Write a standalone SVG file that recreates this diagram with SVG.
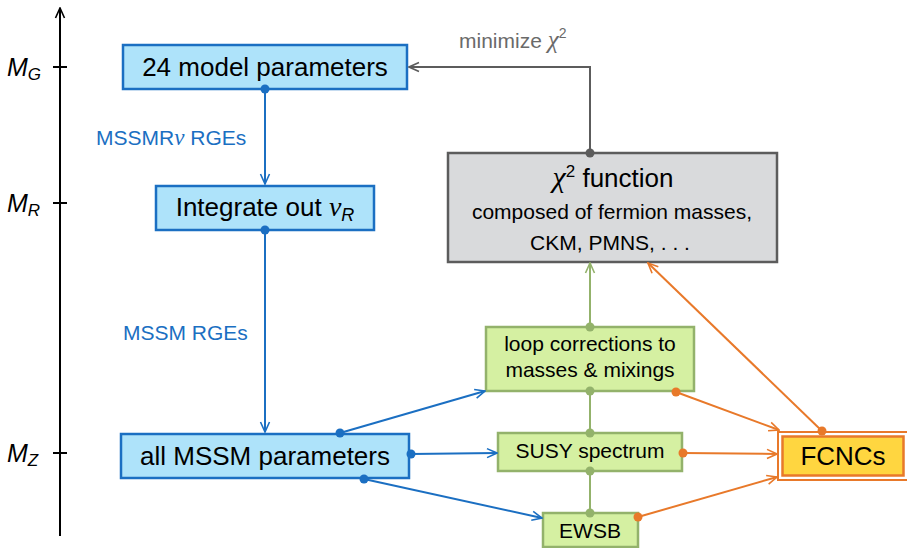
<svg xmlns="http://www.w3.org/2000/svg" width="907" height="548" viewBox="0 0 907 548">
  <style>
    .sans { font-family: "Liberation Sans", Arial, sans-serif; }
    .greek { font-family: "Liberation Serif", "Times New Roman", serif; font-style: italic; }
    .big { font-size: 26px; fill: #000; }
    .mid { font-size: 21px; fill: #000; }
    .lbl-blue { font-size: 21px; fill: #1b6fc2; }
    .lbl-gray { font-size: 21px; fill: #6a6a6a; }
    .axis-lbl { font-size: 25px; font-style: italic; fill: #000; }
    .blue-box { fill: #aee3fa; stroke: #1b6fc2; stroke-width: 2.5; }
    .green-box { fill: #d5f0a2; stroke: #93b26b; stroke-width: 2.5; }
    .gray-box { fill: #d9dadc; stroke: #5c5c5c; stroke-width: 2.5; }
    .c-blue { stroke: #1b6fc2; stroke-width: 2; fill: none; }
    .c-green { stroke: #93b26b; stroke-width: 2; fill: none; }
    .c-gray { stroke: #5c5c5c; stroke-width: 2; fill: none; }
    .c-orange { stroke: #e8792a; stroke-width: 2; fill: none; }
    .d-blue { fill: #1b6fc2; }
    .d-green { fill: #93b26b; }
    .d-gray { fill: #5c5c5c; }
    .d-orange { fill: #e8792a; }
  </style>
  <defs>
    <marker id="ah-black" viewBox="0 0 12 12" refX="11" refY="6" markerWidth="12" markerHeight="12" markerUnits="userSpaceOnUse" orient="auto">
      <path d="M1,1.5 L11,6 L1,10.5" fill="none" stroke="#000" stroke-width="1.6"/>
    </marker>
    <marker id="ah-blue" viewBox="0 0 12 12" refX="11" refY="6" markerWidth="12" markerHeight="12" markerUnits="userSpaceOnUse" orient="auto">
      <path d="M1,1.5 L11,6 L1,10.5" fill="none" stroke="#1b6fc2" stroke-width="1.6"/>
    </marker>
    <marker id="ah-green" viewBox="0 0 12 12" refX="11" refY="6" markerWidth="12" markerHeight="12" markerUnits="userSpaceOnUse" orient="auto">
      <path d="M1,1.5 L11,6 L1,10.5" fill="none" stroke="#93b26b" stroke-width="1.6"/>
    </marker>
    <marker id="ah-gray" viewBox="0 0 12 12" refX="11" refY="6" markerWidth="12" markerHeight="12" markerUnits="userSpaceOnUse" orient="auto">
      <path d="M1,1.5 L11,6 L1,10.5" fill="none" stroke="#5c5c5c" stroke-width="1.6"/>
    </marker>
    <marker id="ah-orange" viewBox="0 0 12 12" refX="11" refY="6" markerWidth="12" markerHeight="12" markerUnits="userSpaceOnUse" orient="auto">
      <path d="M1,1.5 L11,6 L1,10.5" fill="none" stroke="#e8792a" stroke-width="1.6"/>
    </marker>
  </defs>

  <!-- energy scale axis -->
  <g id="axis">
    <line x1="60" y1="536" x2="60" y2="8" stroke="#000" stroke-width="2" marker-end="url(#ah-black)"/>
    <line x1="53" y1="67" x2="67" y2="67" stroke="#000" stroke-width="2"/>
    <line x1="53" y1="203" x2="67" y2="203" stroke="#000" stroke-width="2"/>
    <line x1="53" y1="453" x2="67" y2="453" stroke="#000" stroke-width="2"/>
    <text class="sans axis-lbl" x="7" y="76">M<tspan font-size="17" dy="4">G</tspan></text>
    <text class="sans axis-lbl" x="7" y="212">M<tspan font-size="17" dy="4">R</tspan></text>
    <text class="sans axis-lbl" x="7" y="462">M<tspan font-size="17" dy="4">Z</tspan></text>
  </g>

  <!-- nodes -->
  <g id="model-params">
    <rect class="blue-box" x="123" y="45" width="284" height="44"/>
    <text class="sans big" x="265" y="76" text-anchor="middle">24 model parameters</text>
  </g>
  <g id="integrate-out">
    <rect class="blue-box" x="156" y="186" width="218" height="44"/>
    <text class="sans big" x="265" y="216" text-anchor="middle">Integrate out <tspan class="greek" font-size="28">ν</tspan><tspan font-size="18" font-style="italic" dy="5">R</tspan></text>
  </g>
  <g id="mssm-params">
    <rect class="blue-box" x="121" y="434" width="288" height="44"/>
    <text class="sans big" x="265" y="465" text-anchor="middle">all MSSM parameters</text>
  </g>
  <g id="chi2">
    <rect class="gray-box" x="448" y="153" width="329" height="109"/>
    <text class="sans big" x="613" y="187" text-anchor="middle"><tspan class="greek" font-size="30">χ</tspan><tspan font-size="17" dy="-10">2</tspan><tspan dy="10"> function</tspan></text>
    <text class="sans mid" x="612" y="219" text-anchor="middle">composed of fermion masses,</text>
    <text class="sans mid" x="610" y="250" text-anchor="middle">CKM, PMNS, . . .</text>
  </g>
  <g id="loop-corr">
    <rect class="green-box" x="486" y="327" width="208" height="64"/>
    <text class="sans mid" x="590" y="351" text-anchor="middle">loop corrections to</text>
    <text class="sans mid" x="590" y="377" text-anchor="middle">masses &amp; mixings</text>
  </g>
  <g id="susy-spectrum">
    <rect class="green-box" x="498" y="433" width="184" height="38"/>
    <text class="sans mid" x="590" y="458" text-anchor="middle">SUSY spectrum</text>
  </g>
  <g id="ewsb">
    <rect class="green-box" x="543" y="513" width="95" height="34"/>
    <text class="sans mid" x="590" y="538" text-anchor="middle">EWSB</text>
  </g>
  <g id="fcnc">
    <rect x="778" y="432" width="132" height="48" fill="#fff" stroke="#e8792a" stroke-width="2"/>
    <rect x="782.5" y="436.5" width="121" height="39" fill="#ffd640" stroke="#e8792a" stroke-width="2.5"/>
    <text class="sans big" x="843" y="465" text-anchor="middle">FCNCs</text>
  </g>

  <!-- connectors -->
  <g id="connectors">
    <!-- RG running -->
    <line class="c-blue" x1="265" y1="89" x2="265" y2="184" marker-end="url(#ah-blue)"/>
    <circle class="d-blue" cx="265" cy="89" r="4.5"/>
    <text class="sans lbl-blue" x="96" y="145">MSSMR<tspan class="greek" font-size="23">ν</tspan> RGEs</text>
    <line class="c-blue" x1="265" y1="230" x2="265" y2="432" marker-end="url(#ah-blue)"/>
    <circle class="d-blue" cx="265" cy="230" r="4.5"/>
    <text class="sans lbl-blue" x="123" y="340">MSSM RGEs</text>

    <!-- low-scale branches -->
    <line class="c-blue" x1="340" y1="433" x2="485" y2="391" marker-end="url(#ah-blue)"/>
    <circle class="d-blue" cx="340" cy="433" r="4.5"/>
    <line class="c-blue" x1="411" y1="454" x2="497" y2="453" marker-end="url(#ah-blue)"/>
    <circle class="d-blue" cx="411" cy="454" r="4.5"/>
    <line class="c-blue" x1="364" y1="479" x2="542" y2="518" marker-end="url(#ah-blue)"/>
    <circle class="d-blue" cx="364" cy="479" r="4.5"/>

    <!-- green chain -->
    <line class="c-green" x1="590" y1="327" x2="590" y2="263" marker-end="url(#ah-green)"/>
    <line class="c-green" x1="590" y1="391" x2="590" y2="433"/>
    <line class="c-green" x1="590" y1="471" x2="590" y2="513"/>
    <circle class="d-green" cx="590" cy="327" r="4.5"/>
    <circle class="d-green" cx="590" cy="391" r="4.5"/>
    <circle class="d-green" cx="590" cy="433" r="4.5"/>
    <circle class="d-green" cx="590" cy="471" r="4.5"/>
    <circle class="d-green" cx="590" cy="513" r="4.5"/>

    <!-- FCNC links -->
    <line class="c-orange" x1="676" y1="392" x2="779" y2="430" marker-end="url(#ah-orange)"/>
    <circle class="d-orange" cx="676" cy="392" r="4.5"/>
    <line class="c-orange" x1="683" y1="453" x2="777" y2="454" marker-end="url(#ah-orange)"/>
    <circle class="d-orange" cx="683" cy="453" r="4.5"/>
    <line class="c-orange" x1="638" y1="517" x2="777" y2="477" marker-end="url(#ah-orange)"/>
    <circle class="d-orange" cx="638" cy="517" r="4.5"/>
    <line class="c-orange" x1="822" y1="431" x2="648" y2="263" marker-end="url(#ah-orange)"/>
    <circle class="d-orange" cx="822" cy="431" r="4.5"/>

    <!-- feedback loop -->
    <polyline class="c-gray" points="590,153 590,67 409,67" marker-end="url(#ah-gray)"/>
    <circle class="d-gray" cx="590" cy="153" r="4.5"/>
    <text class="sans lbl-gray" x="459" y="48">minimize <tspan class="greek" font-size="25">χ</tspan><tspan font-size="14" dy="-10">2</tspan></text>
  </g>
</svg>
